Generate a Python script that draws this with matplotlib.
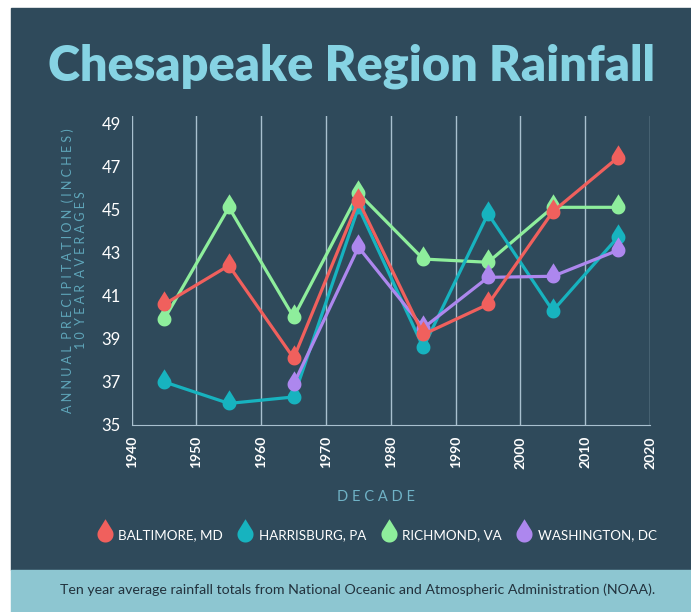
import matplotlib.pyplot as plt
import numpy as np
from matplotlib.path import Path
from matplotlib.patches import Rectangle
from matplotlib.lines import Line2D

decades = [1945, 1955, 1965, 1975, 1985, 1995, 2005, 2015]
baltimore = [40.6, 42.4, 38.1, 45.4, 39.2, 40.6, 44.9, 47.4]
harrisburg = [37.0, 36.0, 36.3, 45.1, 38.6, 44.8, 40.3, 43.7]
richmond = [39.9, 45.1, 40.0, 45.75, 42.7, 42.55, 45.1, 45.1]
washington = [np.nan, np.nan, 36.9, 43.25, 39.5, 41.85, 41.9, 43.1]
xticks = [1940, 1950, 1960, 1970, 1980, 1990, 2000, 2010, 2020]
yticks = [35, 37, 39, 41, 43, 45, 47, 49]

bg = '#2f4a5b'
red, teal, green, purple = '#f0605d', '#17b3bf', '#8eee9c', '#ad87ee'

# droplet marker: circle with a pointed top
h = 1.9
phi = np.arccos(1 / h)
ang = np.linspace(np.pi / 2 + phi, np.pi / 2 - phi + 2 * np.pi, 60)
verts = [(0, h)] + list(zip(np.cos(ang), np.sin(ang))) + [(0, h)]
drop = Path(verts, closed=True)

fig = plt.figure(figsize=(6.91, 6.12), dpi=100)
fig.patches.append(Rectangle((11 / 691, 42 / 612), 1, 1 - 50 / 612, transform=fig.transFigure,
                             color=bg, zorder=-5))
fig.patches.append(Rectangle((11 / 691, 0), 1, 42 / 612, transform=fig.transFigure,
                             color='#8dc6d1', zorder=-5))

ax = fig.add_axes([0.1906, 0.3056, 0.7501, 0.5053])
ax.set_facecolor('none')

series = [(richmond, green), (harrisburg, teal), (washington, purple), (baltimore, red)]
for vals, c in series:
    ax.plot(decades, vals, color=c, lw=2.3, marker=drop, ms=19, mec='none', mfc=c)

ax.set_xlim(1940, 2020)
ax.set_ylim(35, 49.35)
ax.set_xticks(xticks)
ax.set_yticks(yticks)
ax.set_xticklabels([str(t) for t in xticks], rotation=90, color='white', fontsize=10,
                   fontweight='bold', family='Lato')
ax.set_yticklabels([str(t) for t in yticks], color='white', fontsize=12, family='Lato')
ax.tick_params(length=0, pad=8)
ax.grid(axis='x', color='#a9c0cf', lw=1)
for s in ['top', 'right', 'left']:
    ax.spines[s].set_visible(False)
ax.spines['bottom'].set_color('#a9c0cf')

ax.set_ylabel('A N N U A L  P R E C I P I T A T I O N  ( I N C H E S )\n1 0  Y E A R  A V E R A G E S',
              color='#5fa6ba', fontsize=9, family='Lato', linespacing=1.15, labelpad=10)
fig.text(376 / 691, 1 - 497 / 612, 'D E C A D E', color='#6fb2c6', fontsize=10.5,
         family='Lato', ha='center', va='center')

fig.text(352 / 691, 1 - 66 / 612, 'Chesapeake Region Rainfall', color='#86d3e3', fontsize=35,
         fontweight='heavy', family='Lato', ha='center', va='center')

handles = [Line2D([], [], ls='none', marker=drop, ms=22, mec='none', mfc=c)
           for c in [red, teal, green, purple]]
labels = ['BALTIMORE, MD', 'HARRISBURG, PA', 'RICHMOND, VA', 'WASHINGTON, DC']
fig.legend(handles, labels, ncol=4, loc='center', bbox_to_anchor=(378 / 691, 1 - 535 / 612),
           frameon=False, handlelength=0.8, handletextpad=0.6, columnspacing=1.3,
           prop={'family': 'Lato', 'size': 9.6}, labelcolor='white')

fig.text(358 / 691, 1 - 590 / 612,
         'Ten year average rainfall totals from National Oceanic and Atmospheric Administration (NOAA).',
         color='#22323d', fontsize=10.2, family='Lato', ha='center', va='center')

fig.savefig('out.png', dpi=100)
